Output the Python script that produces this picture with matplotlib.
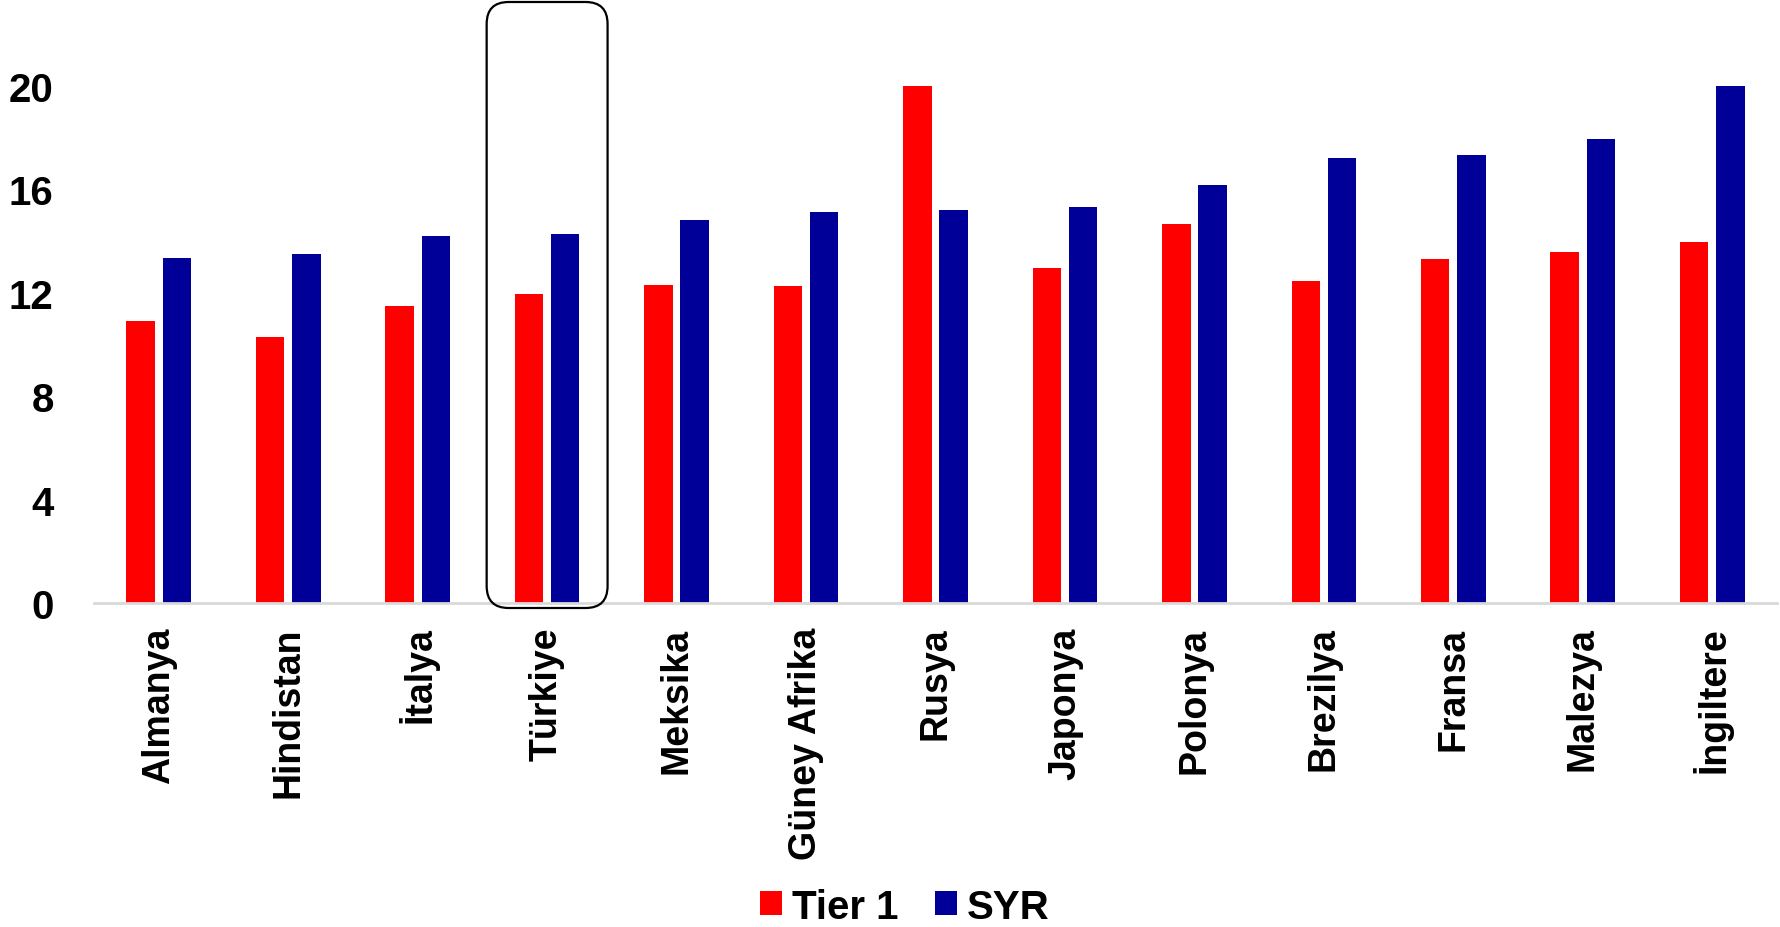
import matplotlib

matplotlib.use("Agg")
import matplotlib.pyplot as plt
import numpy as np
from matplotlib.patches import FancyBboxPatch
from matplotlib.transforms import IdentityTransform

plt.rcParams["font.family"] = ["Liberation Sans", "DejaVu Sans"]
plt.rcParams["font.weight"] = "bold"

countries = ["Almanya", "Hindistan", "İtalya", "Türkiye", "Meksika", "Güney Afrika",
             "Rusya", "Japonya", "Polonya", "Brezilya", "Fransa", "Malezya", "İngiltere"]
tier1 = [10.9, 10.3, 11.5, 11.95, 12.3, 12.25, 20.0, 12.95, 14.65, 12.45, 13.3, 13.55, 13.95]
syr = [13.35, 13.5, 14.2, 14.25, 14.8, 15.1, 15.2, 15.3, 16.15, 17.2, 17.3, 17.95, 20.0]
yticks = [0, 4, 8, 12, 16, 20]
highlight = "Türkiye"

RED = "#ff0000"
BLUE = "#000099"

fig = plt.figure(figsize=(17.81, 9.28), dpi=100)
ax = fig.add_axes([94 / 1781, (928 - 604) / 928, 1683 / 1781, 604 / 928])

x = np.arange(len(countries))
w = 0.22
ax.bar(x - 0.14, tier1, w, color=RED, label="Tier 1")
ax.bar(x + 0.14, syr, w, color=BLUE, label="SYR")

ax.set_xlim(-0.5, len(countries) - 0.5)
ax.set_ylim(0, 23.35)
ax.set_yticks(yticks)
ax.set_yticklabels([str(t) for t in yticks], fontsize=29, fontweight="bold")
ax.set_xticks(x)
ax.set_xticklabels(countries, rotation=90, fontsize=27, fontweight="bold", va="top")
ax.tick_params(axis="y", length=0, pad=29)
ax.tick_params(axis="x", length=0, pad=17)

for s in ["top", "right", "left"]:
    ax.spines[s].set_visible(False)
ax.spines["bottom"].set_color("#d9d9d9")
ax.spines["bottom"].set_linewidth(2)

# rounded frame around the highlighted country
i = countries.index(highlight)
(x0, y0) = ax.transData.transform((i - 0.467, 0))
(x1, y1) = ax.transData.transform((i + 0.467, 23.35))
box = FancyBboxPatch((x0, y0 - 5), x1 - x0, (y1 - 3) - (y0 - 5),
                     boxstyle="round,pad=0,rounding_size=22",
                     transform=IdentityTransform(), fill=False,
                     edgecolor="black", linewidth=1.6, clip_on=False)
fig.add_artist(box)

fig.legend(loc="center", bbox_to_anchor=(0.508, 0.022), ncol=2, frameon=False,
           prop={"size": 29, "weight": "bold"}, handlelength=0.55, handleheight=0.55,
           handletextpad=0.25, columnspacing=0.9, borderpad=0)

fig.savefig("out.png", dpi=100)
